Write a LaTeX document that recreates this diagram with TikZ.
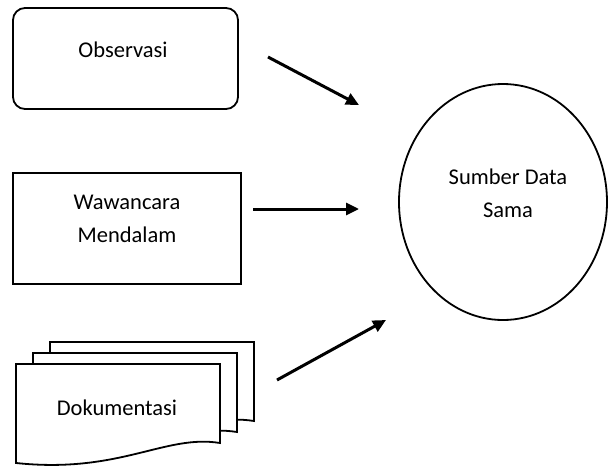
\documentclass[tikz,border=0pt]{standalone}
\usepackage{fontspec}
\setmainfont{Carlito}
\usetikzlibrary{arrows.meta,shapes.geometric}
\tikzset{
  boxline/.style={draw=black,line width=1.8pt},
  lbl/.style={font=\fontsize{22.5}{33}\selectfont,align=center,inner sep=0pt},
  flowarrow/.style={line width=3pt,-{Triangle[length=13pt,width=12pt]}},
  docpage/.style={draw=black,line width=1.8pt,fill=white}
}
\newcommand\docpagepath[2]{%
  \path[docpage,shift={(#1,#2)}] (16,364) -- (220,364) -- (220,443)
    .. controls (165,434) and (120,474) .. (16,463) -- cycle;}
\begin{document}
\begin{tikzpicture}[x=1pt,y=-1pt]
\useasboundingbox (0,0) rectangle (608,474);
% Observasi
\draw[boxline,rounded corners=12pt] (13,8) rectangle (238,109);
\node[lbl] (obs) at (123,50) {Observasi};
% Wawancara
\draw[boxline] (13,173) rectangle (241,284);
\node[lbl] (waw) at (127,219) {Wawancara\\Mendalam};
% Dokumentasi stack
\docpagepath{34}{-22}
\docpagepath{17}{-11}
\docpagepath{0}{0}
\node[lbl] (dok) at (117,408) {Dokumentasi};
% Sumber Data Sama
\node[draw=black,line width=1.8pt,ellipse,minimum width=208pt,minimum height=236pt,inner sep=0pt] (src) at (503,202) {};
\node[lbl] (srctext) at (508,193) {Sumber Data\\Sama};
% arrows
\coordinate (a1s) at (268,57);
\coordinate (a1e) at (359,105);
\coordinate (a2s) at (253,209);
\coordinate (a2e) at (359,209);
\coordinate (a3s) at (277,380);
\coordinate (a3e) at (386,320);
\draw[flowarrow] (a1s) -- (a1e);
\draw[flowarrow] (a2s) -- (a2e);
\draw[flowarrow] (a3s) -- (a3e);
\end{tikzpicture}
\end{document}
